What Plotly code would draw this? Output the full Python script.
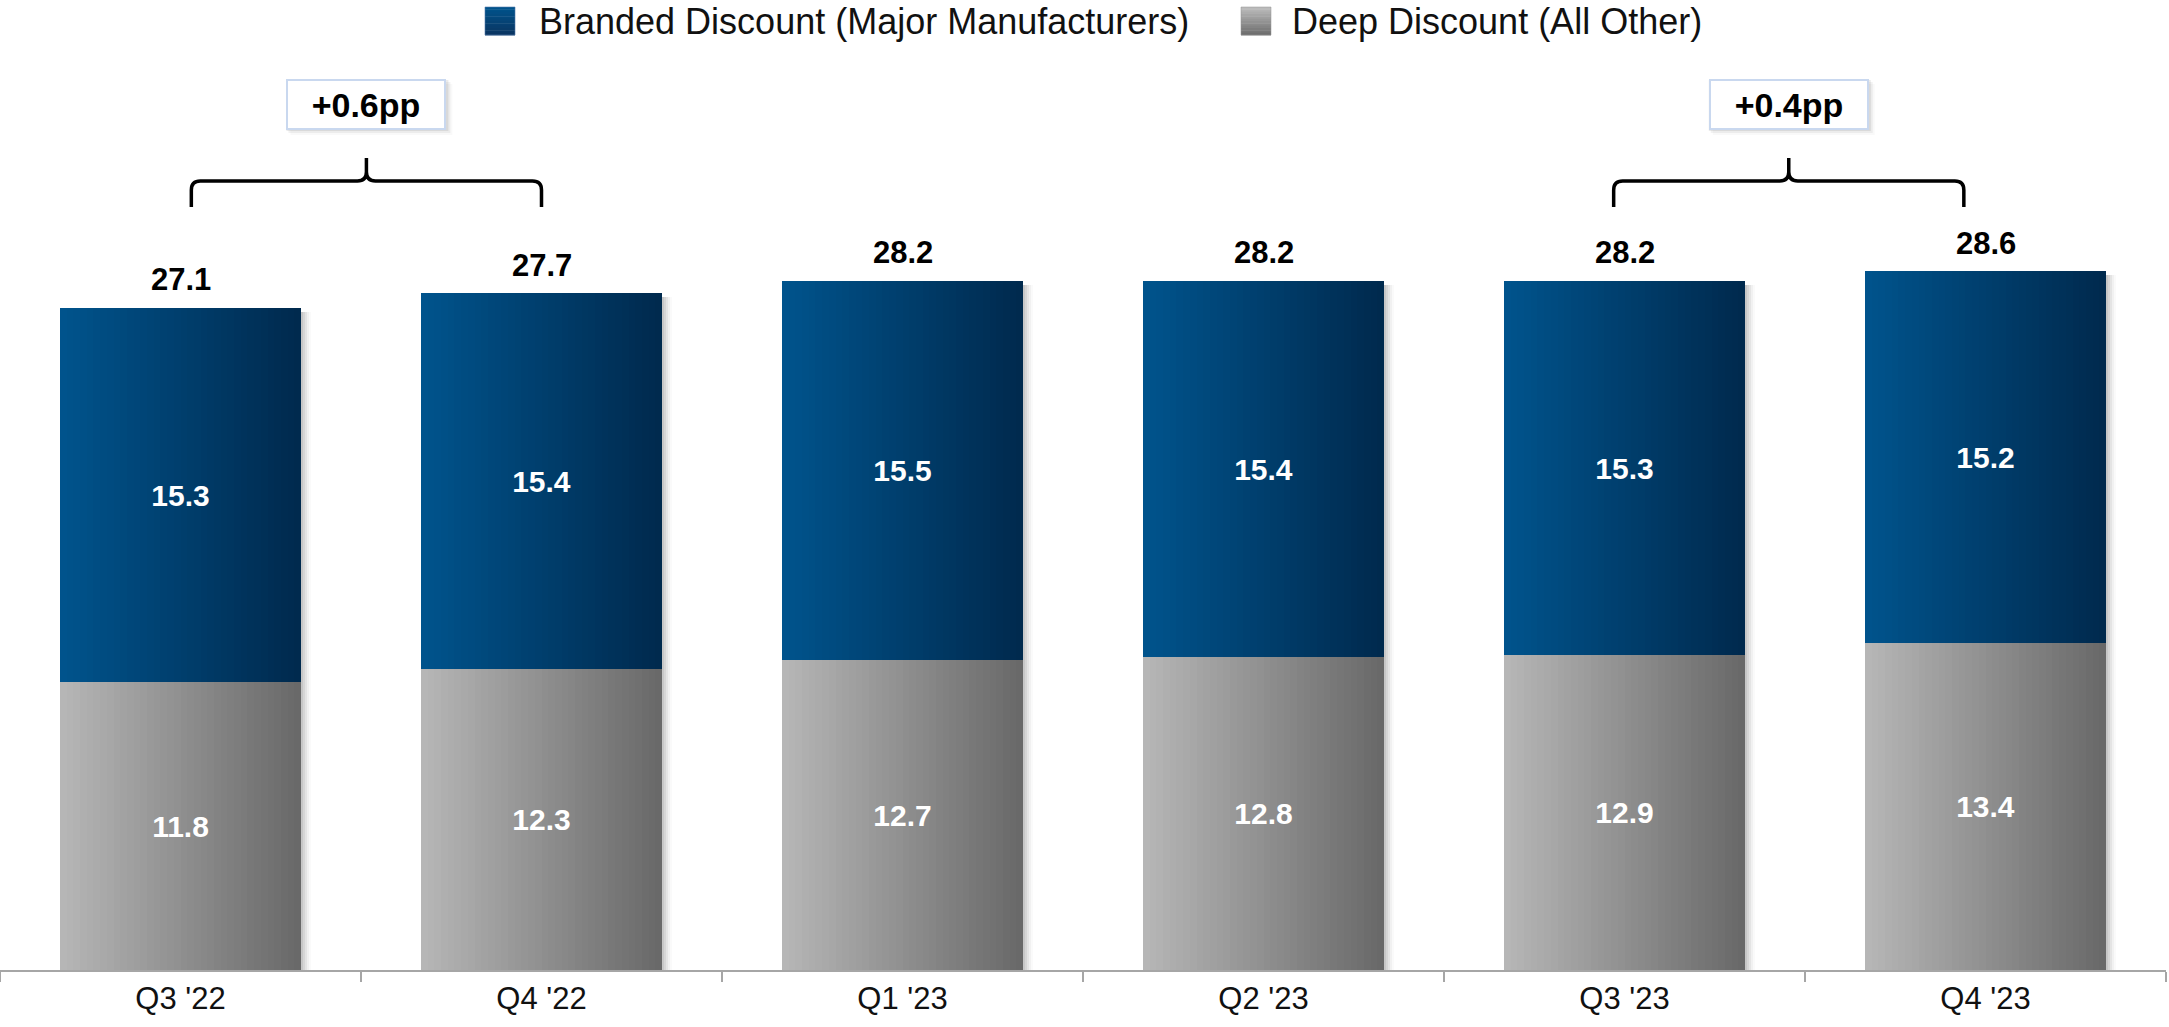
import plotly.graph_objects as go

# ---- data -------------------------------------------------------------
quarters = ["Q3 '22", "Q4 '22", "Q1 '23", "Q2 '23", "Q3 '23", "Q4 '23"]
branded = [15.3, 15.4, 15.5, 15.4, 15.3, 15.2]
deep = [11.8, 12.3, 12.7, 12.8, 12.9, 13.4]
series_names = ["Branded Discount (Major Manufacturers)", "Deep Discount (All Other)"]
# quarter pairs compared by the braces (first index, last index)
compare_pairs = [(0, 1), (4, 5)]

# ---- geometry / style ---------------------------------------------------
W, H = 2169, 1027
M_L, M_R, M_T, M_B = 0, 3, 0, 57
PLOT_W = W - M_L - M_R
PLOT_H = H - M_T - M_B
Y_MAX = 39.7
BW = 0.668            # bar width in category units
N_STRIPS = 36         # vertical strips used to shade each bar left->right

FONT = "Arial, Liberation Sans, sans-serif"
BLUE_L, BLUE_R = (0, 84, 141), (0, 41, 77)
GRAY_L, GRAY_R = (183, 183, 183), (104, 104, 104)

n = len(quarters)
xs = list(range(n))
totals = [round(b + d, 1) for b, d in zip(branded, deep)]

px_per_cat = PLOT_W / n
px_per_unit = PLOT_H / Y_MAX


def ypap(py):
    """pixel row (from top of plot) -> paper y"""
    return (PLOT_H - py) / PLOT_H


def ydat(py):
    """pixel row (from top of plot) -> data y"""
    return (PLOT_H - py) / px_per_unit


def lerp(c1, c2, t):
    return "rgb(%d,%d,%d)" % tuple(round(a + (b - a) * t) for a, b in zip(c1, c2))


fig = go.Figure()

# soft drop shadow to the right of each stacked bar
for shift, alpha in [(2, 0.07), (4, 0.06), (6, 0.05), (8, 0.035), (10, 0.02)]:
    fig.add_trace(go.Bar(
        x=xs, y=[t - 4 / px_per_unit for t in totals],
        width=BW, offset=-BW / 2 + shift / px_per_cat,
        marker=dict(color="rgba(0,0,0,%.3f)" % alpha, line=dict(width=0)),
        hoverinfo="skip", showlegend=False,
    ))

# shaded segments: deep discount at the bottom, branded discount on top
strip_w = BW / N_STRIPS
for vals, base, cl, cr in [(deep, None, GRAY_L, GRAY_R), (branded, deep, BLUE_L, BLUE_R)]:
    for k in range(N_STRIPS):
        t = (k + 0.5) / N_STRIPS
        fig.add_trace(go.Bar(
            x=xs, y=vals, base=base,
            width=strip_w + (0.003 if k < N_STRIPS - 1 else 0),
            offset=-BW / 2 + k * strip_w,
            marker=dict(color=lerp(cl, cr, t), line=dict(width=0)),
            hoverinfo="skip", showlegend=False,
        ))

# value labels inside each segment
for name, vals, base in [(series_names[1], deep, None), (series_names[0], branded, deep)]:
    fig.add_trace(go.Bar(
        x=xs, y=vals, base=base, width=BW, name=name,
        marker=dict(color="rgba(0,0,0,0)", line=dict(width=0)),
        text=["%.1f" % v for v in vals], textposition="inside",
        insidetextanchor="middle", constraintext="none",
        textfont=dict(family=FONT, size=30, color="white", weight="bold"),
        hoverinfo="skip", showlegend=False,
    ))

annotations = []
shapes = []

# totals above the bars
for i, t in enumerate(totals):
    annotations.append(dict(
        x=xs[i], y=t, xref="x", yref="y", text="%.1f" % t, showarrow=False,
        yanchor="middle", yshift=28,
        font=dict(family=FONT, size=31, color="#000", weight="bold"),
    ))

# braces with change labels
bracket_spans = [(0.03, 1.0), (3.97, 4.94)]
y_end, y_bar, y_tip = ydat(207), ydat(181), ydat(158)
rx, ry = 9 / px_per_cat, 9 / px_per_unit
for (i, j), (xl, xr) in zip(compare_pairs, bracket_spans):
    xc = (xl + xr) / 2
    path = (
        f"M{xl},{y_end} L{xl},{y_bar - ry} Q{xl},{y_bar} {xl + rx},{y_bar} "
        f"L{xc - rx},{y_bar} Q{xc},{y_bar} {xc},{y_bar + ry} L{xc},{y_tip} "
        f"M{xc},{y_bar + ry} Q{xc},{y_bar} {xc + rx},{y_bar} "
        f"L{xr - rx},{y_bar} Q{xr},{y_bar} {xr},{y_bar - ry} L{xr},{y_end}"
    )
    shapes.append(dict(type="path", path=path, xref="x", yref="y",
                       line=dict(color="#000", width=3.5)))
    # soft shadow behind the label box
    half_w = 81 / px_per_cat
    for d, a in [(1, 0.08), (3, 0.05), (5, 0.025)]:
        shapes.append(dict(
            type="rect", xref="x", yref="paper",
            x0=xc - half_w + d / px_per_cat, x1=xc + half_w + d / px_per_cat,
            y0=ypap(130 + d), y1=ypap(79 + d),
            fillcolor="rgba(0,0,0,%.3f)" % a, line=dict(width=0),
        ))
    annotations.append(dict(
        x=xc, y=ypap(104.5), xref="x", yref="paper", showarrow=False,
        xanchor="center", yanchor="middle",
        text="+%.1fpp" % (totals[j] - totals[i]),
        width=156, height=47, borderpad=0, borderwidth=2,
        bordercolor="#c9d8ef", bgcolor="white",
        font=dict(family=FONT, size=34, color="#000", weight="bold"),
    ))

# legend: shaded squares + labels
legend_items = [
    (series_names[0], 485, BLUE_L, (10, 52, 96), "rgba(80,120,170,0.6)", 537),
    (series_names[1], 1241, (190, 190, 190), (108, 108, 108), "rgba(150,150,150,0.5)", 1290),
]
for label, sx, ctop, cbot, edge, tx in legend_items:
    n_band = 12
    top, bot = 7, 35
    for b in range(n_band):
        y0 = top + (bot - top) * b / n_band
        y1 = top + (bot - top) * (b + 1) / n_band + 0.4
        shapes.append(dict(
            type="rect", xref="paper", yref="paper",
            x0=sx / PLOT_W, x1=(sx + 30) / PLOT_W, y0=ypap(y1), y1=ypap(y0),
            fillcolor=lerp(ctop, cbot, (b + 0.5) / n_band), line=dict(width=0),
        ))
    shapes.append(dict(
        type="rect", xref="paper", yref="paper",
        x0=sx / PLOT_W, x1=(sx + 30) / PLOT_W, y0=ypap(bot), y1=ypap(top),
        line=dict(width=1, color=edge),
    ))
    annotations.append(dict(
        x=tx / PLOT_W, y=ypap(21), xref="paper", yref="paper", text=label,
        showarrow=False, xanchor="left", yanchor="middle",
        font=dict(family=FONT, size=36, color="#111"),
    ))

fig.update_layout(
    width=W, height=H,
    margin=dict(l=M_L, r=M_R, t=M_T, b=M_B),
    paper_bgcolor="white", plot_bgcolor="white",
    barmode="overlay", bargap=0,
    showlegend=False,
    font=dict(family=FONT, color="#111"),
    annotations=annotations, shapes=shapes,
    xaxis=dict(
        range=[-0.5, n - 0.5], tickvals=xs, ticktext=quarters,
        ticks="", showgrid=False, zeroline=False,
        showline=True, linecolor="#a6a6a6", linewidth=1.5,
        tickfont=dict(family=FONT, size=31, color="#111"),
        minor=dict(tick0=0.5, dtick=1, ticks="outside", ticklen=10,
                   tickcolor="#a6a6a6", tickwidth=1.5, showgrid=False),
    ),
    yaxis=dict(range=[0, Y_MAX], visible=False, fixedrange=True),
)

fig.write_html("out.html")
